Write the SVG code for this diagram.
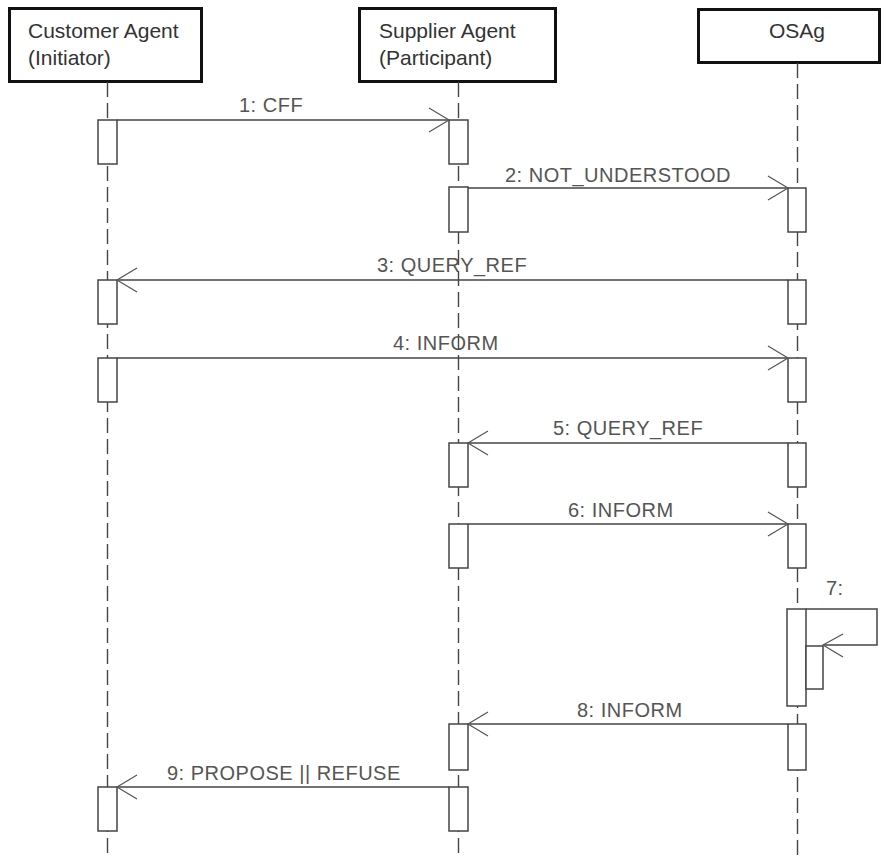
<svg xmlns="http://www.w3.org/2000/svg" width="882" height="857" viewBox="0 0 882 857">
<defs>
<style>
.hdr{fill:#fff;stroke:#111;stroke-width:3}
.ht{font-family:"Liberation Sans",Arial,sans-serif;font-size:21px;fill:#333}
.life{stroke:#444;stroke-width:1.4;stroke-dasharray:15 6;fill:none}
.act{fill:#fff;stroke:#444;stroke-width:1.5}
.msg{stroke:#444;stroke-width:1.5;fill:none}
.ah{stroke:#555;stroke-width:1.2;fill:none}
.lbl{font-family:"Liberation Sans",Arial,sans-serif;font-size:20px;fill:#555;letter-spacing:0.5px}
</style>
</defs>
<rect width="882" height="857" fill="#fff"/>
<g id="customer">
<rect class="hdr" x="9.5" y="8.5" width="192" height="73"/>
<text class="ht" x="28" y="38">Customer Agent</text>
<text class="ht" x="28" y="65">(Initiator)</text>
<line class="life" x1="107.5" y1="82" x2="107.5" y2="857"/>
<rect class="act" x="98" y="120" width="19" height="44"/>
<rect class="act" x="98" y="280" width="19" height="44"/>
<rect class="act" x="98" y="358" width="19" height="44"/>
<rect class="act" x="98" y="787" width="19" height="44"/>
</g>
<g id="supplier">
<rect class="hdr" x="359.5" y="8.5" width="196" height="73"/>
<text class="ht" x="379" y="38">Supplier Agent</text>
<text class="ht" x="379" y="65">(Participant)</text>
<line class="life" x1="458.5" y1="82" x2="458.5" y2="857"/>
<rect class="act" x="449" y="120" width="19" height="44"/>
<rect class="act" x="449" y="187" width="19" height="45"/>
<rect class="act" x="449" y="443" width="19" height="44"/>
<rect class="act" x="449" y="524" width="19" height="44"/>
<rect class="act" x="449" y="724" width="19" height="46"/>
<rect class="act" x="449" y="787" width="19" height="44"/>
</g>
<g id="osag">
<rect class="hdr" x="698.5" y="9.5" width="181" height="53"/>
<text class="ht" x="797" y="38" text-anchor="middle">OSAg</text>
<line class="life" x1="797.5" y1="63" x2="797.5" y2="857"/>
<rect class="act" x="788" y="188" width="18" height="44"/>
<rect class="act" x="788" y="280" width="18" height="44"/>
<rect class="act" x="788" y="358" width="18" height="44"/>
<rect class="act" x="788" y="443" width="18" height="44"/>
<rect class="act" x="788" y="524" width="18" height="44"/>
<rect class="act" x="787" y="609" width="19" height="97"/>
<rect class="act" x="806" y="646" width="17" height="43"/>
<rect class="act" x="788" y="724" width="18" height="46"/>
</g>
<g id="connectors">
<line class="msg" x1="117" y1="120" x2="449" y2="120"/>
<polyline class="ah" points="429,108 449,120 429,132"/>
<text class="lbl" x="239" y="112">1: CFF</text>
<line class="msg" x1="468" y1="188" x2="788" y2="188"/>
<polyline class="ah" points="768,176 788,188 768,200"/>
<text class="lbl" x="505" y="182">2: NOT_UNDERSTOOD</text>
<line class="msg" x1="788" y1="280" x2="117" y2="280"/>
<polyline class="ah" points="137,268 117,280 137,292"/>
<text class="lbl" x="377" y="272">3: QUERY_REF</text>
<line class="msg" x1="117" y1="358" x2="788" y2="358"/>
<polyline class="ah" points="768,346 788,358 768,370"/>
<text class="lbl" x="393" y="350">4: INFORM</text>
<line class="msg" x1="788" y1="443" x2="468" y2="443"/>
<polyline class="ah" points="488,431 468,443 488,455"/>
<text class="lbl" x="553" y="435">5: QUERY_REF</text>
<line class="msg" x1="468" y1="524" x2="788" y2="524"/>
<polyline class="ah" points="768,512 788,524 768,536"/>
<text class="lbl" x="568" y="517">6: INFORM</text>
<polyline class="msg" points="806,609 877,609 877,645 823,645"/>
<polyline class="ah" points="843,634 823,645 843,657"/>
<text class="lbl" x="826" y="595">7:</text>
<line class="msg" x1="788" y1="724" x2="468" y2="724"/>
<polyline class="ah" points="488,712 468,724 488,736"/>
<text class="lbl" x="577" y="717">8: INFORM</text>
<line class="msg" x1="449" y1="787" x2="117" y2="787"/>
<polyline class="ah" points="137,775 117,787 137,799"/>
<text class="lbl" x="167" y="780">9: PROPOSE || REFUSE</text>
</g>
</svg>
